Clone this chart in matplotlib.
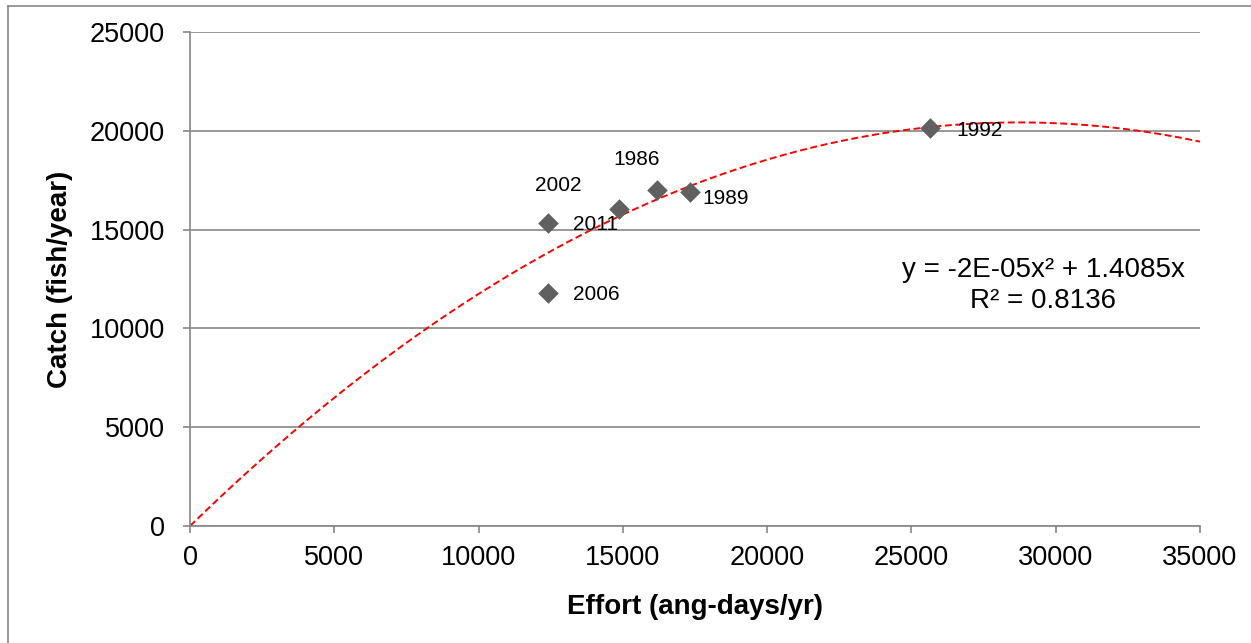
import numpy as np
import matplotlib
matplotlib.use("Agg")
import matplotlib.pyplot as plt
from matplotlib.lines import Line2D

# Data
years = ["2011", "2002", "1986", "1989", "1992", "2006"]
effort = [12400, 14870, 16180, 17320, 25640, 12400]
catch = [15330, 16040, 17000, 16900, 20140, 11790]
# label offsets in pixels (x, y) and alignment
label_offsets = {
    "2011": (25, -1, "left"),
    "2002": (-61, 24, "center"),
    "1986": (-20, 31, "center"),
    "1989": (13, -6, "left"),
    "1992": (26, -2, "left"),
    "2006": (25, -1, "left"),
}
x_ticks = [0, 5000, 10000, 15000, 20000, 25000, 30000, 35000]
y_ticks = [0, 5000, 10000, 15000, 20000, 25000]
eq_text = "y = -2E-05x² + 1.4085x"
r2_text = "R² = 0.8136"

plt.rcParams['font.family'] = ['Liberation Sans', 'DejaVu Sans']

fig = plt.figure(figsize=(12.51, 6.43), dpi=100)
ax = fig.add_axes([190/1251, 1-526/643, (1200-190)/1251, (526-32)/643])

gray = '#868686'
ax.set_xlim(0, 35000)
ax.set_ylim(0, 25000)
ax.set_xticks(x_ticks)
ax.set_yticks(y_ticks)
ax.tick_params(axis='both', labelsize=19.5, color=gray, length=5, width=1.2)
ax.tick_params(axis='y', pad=13)
ax.tick_params(axis='x', pad=9)
ax.grid(axis='y', color=gray, linewidth=1.2)
ax.set_axisbelow(True)
for s in ['top', 'right']:
    ax.spines[s].set_visible(False)
for s in ['left', 'bottom']:
    ax.spines[s].set_color(gray)
    ax.spines[s].set_linewidth(1.2)

# Polynomial trendline through origin (order 2)
xe = np.array(effort, dtype=float)
ye = np.array(catch, dtype=float)
A = np.column_stack([xe**2, xe])
coef, *_ = np.linalg.lstsq(A, ye, rcond=None)
xx = np.linspace(0, 35000, 400)
ax.plot(xx, coef[0]*xx**2 + coef[1]*xx, color='#ff0000', linestyle=(0, (3.6, 1.8)), linewidth=1.4, zorder=2)

ax.scatter(effort, catch, marker='D', s=110, color='#606060', zorder=3, linewidths=0)

for yr, xv, yv in zip(years, effort, catch):
    dx, dy, ha = label_offsets[yr]
    ax.annotate(yr, (xv, yv), xytext=(dx, dy), textcoords='offset pixels',
                ha=ha, va='center', fontsize=15, zorder=4)

ax.text(1043/1251, 1-270/643, eq_text, transform=fig.transFigure, ha='center', va='center', fontsize=20)
ax.text(1043/1251, 1-301/643, r2_text, transform=fig.transFigure, ha='center', va='center', fontsize=20)

ax.set_xlabel("Effort (ang-days/yr)", fontsize=20, fontweight='bold', labelpad=16)
ax.set_ylabel("Catch (fish/year)", fontsize=20, fontweight='bold', labelpad=12)

# Chart border (top and left visible)
fig.add_artist(Line2D([7.5/1251, 1], [1-6/643, 1-6/643], transform=fig.transFigure, color=gray, linewidth=1.2))
fig.add_artist(Line2D([7.5/1251, 7.5/1251], [0, 1-6/643], transform=fig.transFigure, color=gray, linewidth=1.2))

fig.savefig("out.png", dpi=100)
